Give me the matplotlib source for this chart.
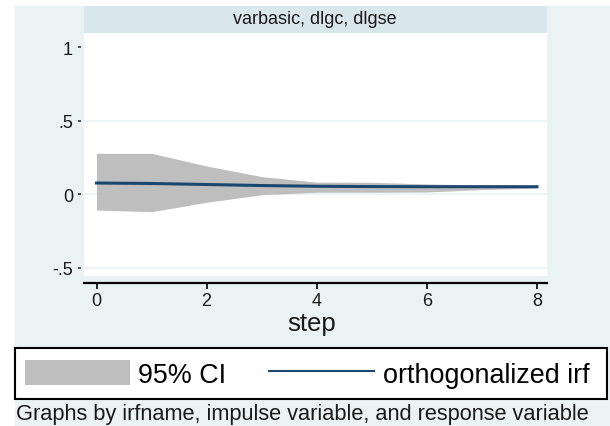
import matplotlib
matplotlib.use("Agg")
import matplotlib.pyplot as plt
from matplotlib.patches import Rectangle

plt.rcParams['font.family'] = ['Liberation Sans', 'DejaVu Sans']

# ---- data ----
steps = [0, 1, 2, 3, 4, 5, 6, 7, 8]
oirf = [0.076, 0.073, 0.066, 0.059, 0.054, 0.052, 0.051, 0.051, 0.051]
ci_lower = [-0.108, -0.119, -0.055, -0.004, 0.013, 0.013, 0.015, 0.031, 0.042]
ci_upper = [0.278, 0.278, 0.192, 0.120, 0.082, 0.081, 0.070, 0.063, 0.059]
yticks = [-0.5, 0, 0.5, 1]
yticklabels = ['-.5', '0', '.5', '1']
xticks = [0, 2, 4, 6, 8]
panel_title = 'varbasic, dlgc, dlgse'
legend_labels = ['95% CI', 'orthogonalized irf']
xlabel = 'step'
caption = 'Graphs by irfname, impulse variable, and response variable'

W, H = 610, 427
BG = '#EAF2F3'
STRIP = '#D9E6EB'
NAVY = '#1A476F'
GREY = '#BEBEBE'

def fx(px):
    return px / W

def fy(py):
    return 1 - py / H

fig = plt.figure(figsize=(W / 100, H / 100), dpi=100, facecolor='white')

# graph region background
fig.patches.append(Rectangle((fx(14.8), 0), 1 - fx(14.8), fy(6.7), transform=fig.transFigure,
                             facecolor=BG, edgecolor='none', zorder=-2))
# strip
fig.patches.append(Rectangle((fx(84), fy(33.5)), fx(547) - fx(84), fy(7) - fy(33.5),
                             transform=fig.transFigure, facecolor=STRIP, edgecolor='none', zorder=-1))
fig.text(fx(315), fy(20), panel_title, ha='center', va='center', fontsize=13, color='#1a1a1a')

# main axes
ax_l, ax_r, ax_t, ax_b = 84, 547, 34, 277
ax = fig.add_axes([fx(ax_l), fy(ax_b), fx(ax_r) - fx(ax_l), fy(ax_t) - fy(ax_b)])
ax.set_zorder(2)
ax.set_facecolor('white')
zero_px, ppu = 195.2, 146.9
ax.set_ylim((zero_px - ax_b) / ppu, (zero_px - ax_t) / ppu)
x0_px, ppx = 96.5, 55.06
ax.set_xlim((ax_l - x0_px) / ppx, (ax_r - x0_px) / ppx)

for y in [-0.5, 0, 0.5]:
    ax.axhline(y, color=BG, lw=1.2, zorder=1)

band = ax.fill_between(steps, ci_lower, ci_upper, color=GREY, lw=0, zorder=2)
line, = ax.plot(steps, oirf, color=NAVY, lw=2.2, zorder=3)

for s in ['top', 'right', 'left']:
    ax.spines[s].set_visible(False)
ax.spines['bottom'].set_position(('outward', 5))
ax.spines['bottom'].set_color('black')
ax.spines['bottom'].set_linewidth(1.6)
ax.spines['left'].set_position(('outward', 2))

ax.set_xticks(xticks)
ax.set_xticklabels([str(t) for t in xticks])
ax.set_yticks(yticks)
ax.set_yticklabels(yticklabels)
ax.tick_params(axis='x', length=4, width=1.2, color='black', pad=2.5, labelsize=13, labelcolor='#1a1a1a')
ax.tick_params(axis='y', length=2, width=1.2, color='#333333', pad=4, labelsize=13, labelcolor='#1a1a1a')

fig.text(fx(312), fy(324), xlabel, ha='center', va='center', fontsize=18.5, color='#1a1a1a')

# legend box
fig.patches.append(Rectangle((fx(14.8), fy(400)), fx(607) - fx(14.8), fy(349) - fy(400),
                             transform=fig.transFigure, facecolor='white', edgecolor='black',
                             lw=1.5, zorder=1))
leg = fig.legend([band, line], legend_labels, loc='center left',
                 bbox_to_anchor=(fx(25), fy(375)), bbox_transform=fig.transFigure,
                 ncol=2, frameon=False, fontsize=19.4, handlelength=3.9, handleheight=1.06,
                 handletextpad=0.3, columnspacing=1.6, borderpad=0, borderaxespad=0)
leg.set_zorder(5)
leg.legend_handles[1].set_linewidth(1.5)

fig.text(fx(15.6), fy(415), caption, ha='left', va='center', fontsize=15.7, color='#1a1a1a')

fig.savefig('out.png', dpi=100, facecolor='white')
